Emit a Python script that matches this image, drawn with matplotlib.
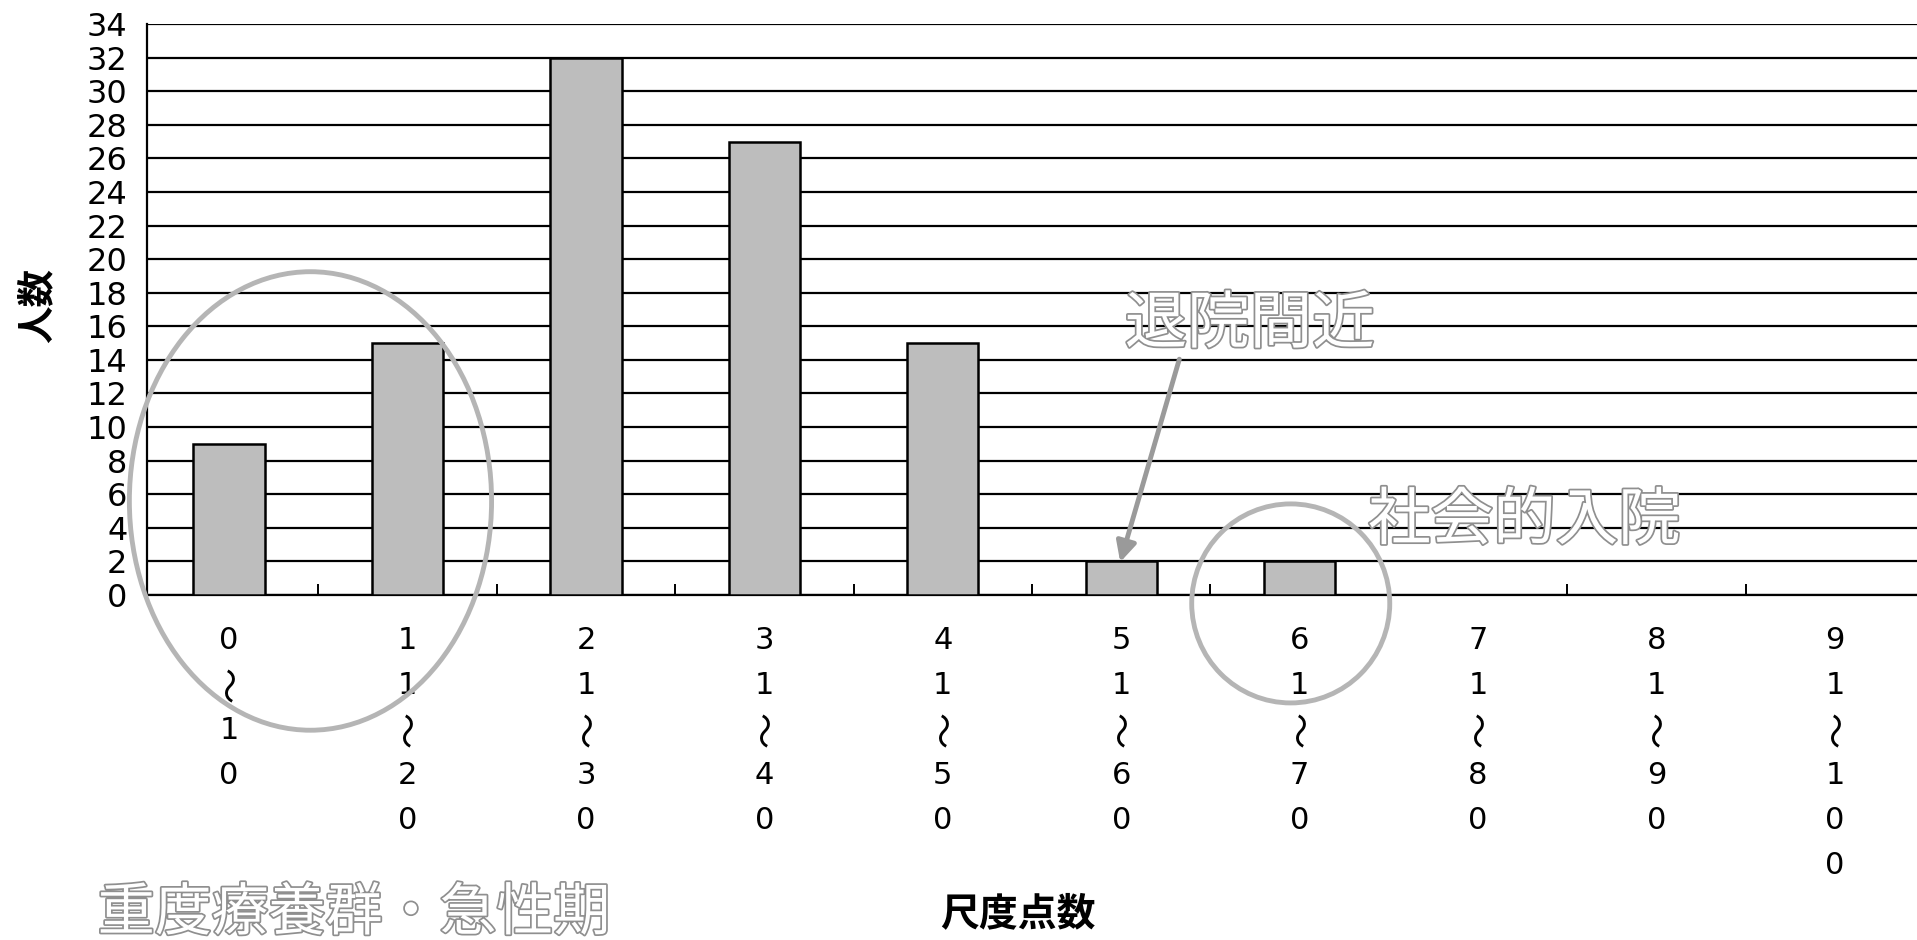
import matplotlib.pyplot as plt
import matplotlib.patheffects as pe
from matplotlib.patches import Ellipse

plt.rcParams['font.family'] = ['Noto Sans CJK JP', 'DejaVu Sans']

# data
categories = ['0～10', '11～20', '21～30', '31～40', '41～50',
              '51～60', '61～70', '71～80', '81～90', '91～100']
counts = [9, 15, 32, 27, 15, 2, 2, 0, 0, 0]
y_ticks = list(range(0, 35, 2))
y_label = '人数'
x_label = '尺度点数'
title = '重度療養群・急性期'
note_discharge = '退院間近'
note_social = '社会的入院'

fig = plt.figure(figsize=(19.17, 9.4), dpi=100)
ax = fig.add_axes([0.0767, 0.367, 0.9233, 0.6075])

x = list(range(len(categories)))
ax.bar(x, counts, width=0.40, color='#bdbdbd', edgecolor='black',
       linewidth=1.8, zorder=3)

ax.set_xlim(-0.46, len(categories) - 0.54)
ax.set_ylim(0, 34)
ax.set_yticks(y_ticks)
ax.set_yticklabels([str(v) for v in y_ticks], family='DejaVu Sans', fontsize=23)
ax.tick_params(axis='y', length=0, pad=14)
for v in y_ticks:
    ax.axhline(v, color='black', linewidth=1.6, zorder=1)

# category ticks between bars, labels written vertically
ax.set_xticks([i + 0.5 for i in x[:-1]])
ax.set_xticklabels([])
ax.tick_params(axis='x', direction='in', length=8, width=1.4)
for i, lab in enumerate(categories):
    for k, ch in enumerate(lab):
        wave = ch == '～'
        ax.annotate(ch, xy=(i, 0), xycoords=('data', 'axes fraction'),
                    xytext=(-4 if wave else 0, -33 - 32.3 * k),
                    textcoords='offset points',
                    ha='center', va='center',
                    fontsize=26 if wave else 22,
                    family='Noto Sans CJK JP' if wave else 'DejaVu Sans',
                    rotation=-90 if wave else 0)

for s in ['top', 'right']:
    ax.spines[s].set_visible(False)
ax.spines['left'].set_linewidth(1.6)
ax.spines['bottom'].set_linewidth(1.6)

fig.text(0.019, 0.675, y_label, rotation=90, ha='center', va='center',
         fontsize=27, fontweight='bold')
fig.text(0.531, 0.028, x_label, ha='center', va='center',
         fontsize=28, fontweight='bold')

outline = [pe.Stroke(linewidth=2.5, foreground='#8f8f8f'), pe.Normal()]
fig.text(0.051, 0.028, title, ha='left', va='center', fontsize=41,
         color='white', path_effects=outline)

# hand-drawn style annotations
ax.text(5.72, 16.1, note_discharge, ha='center', va='center', fontsize=45,
        color='white', path_effects=outline, zorder=5)
ax.annotate('', xy=(4.99, 1.8), xytext=(5.33, 14.2),
            arrowprops=dict(arrowstyle='-|>', color='#9a9a9a', lw=3.5,
                            mutation_scale=30), zorder=5)
ax.text(7.26, 4.4, note_social, ha='center', va='center', fontsize=45,
        color='white', path_effects=outline, zorder=5, clip_on=False)

ax.add_patch(Ellipse((0.456, 5.6), 2.03, 27.3, fill=False,
                     edgecolor='#b5b5b5', linewidth=3.5, zorder=4, clip_on=False))
ax.add_patch(Ellipse((5.95, -0.5), 1.11, 11.85, fill=False,
                     edgecolor='#b5b5b5', linewidth=3.5, zorder=4, clip_on=False))

fig.savefig('out.png', dpi=100)
